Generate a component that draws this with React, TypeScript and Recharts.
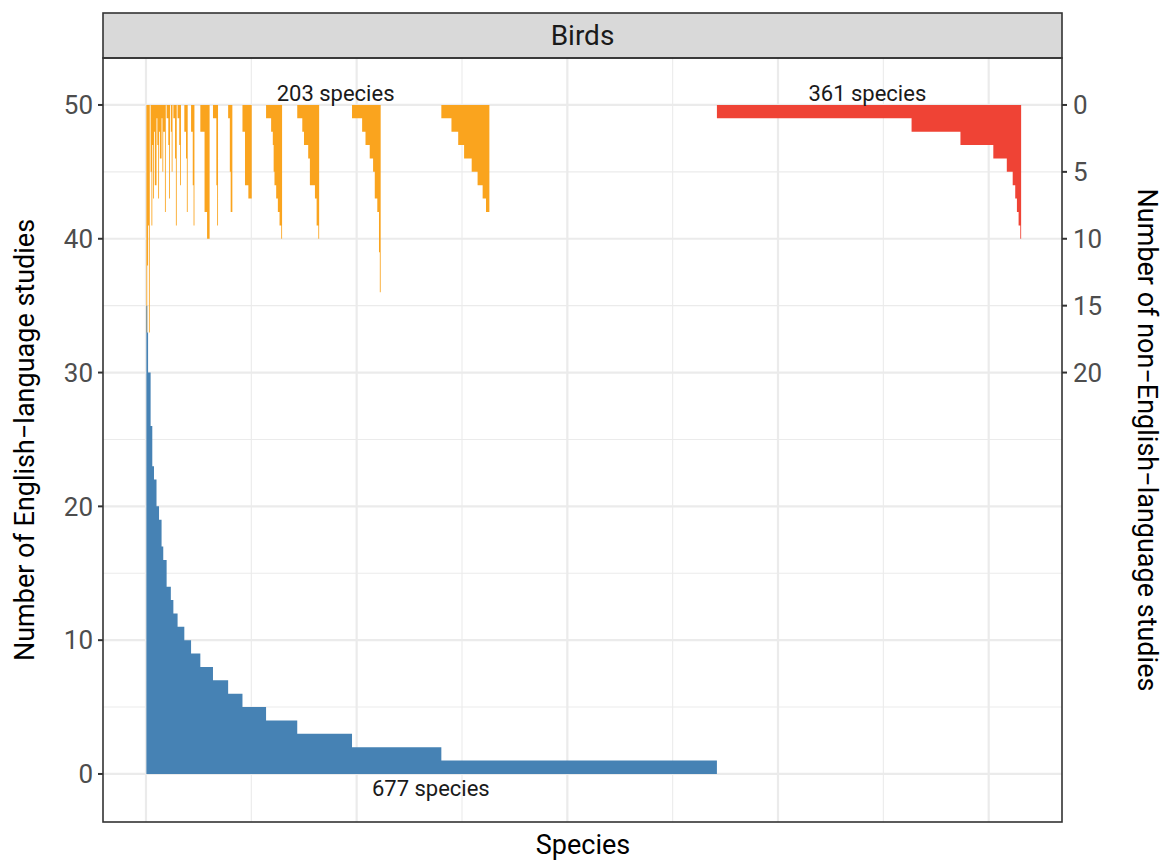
import { ComposedChart, Area, XAxis, YAxis, CartesianGrid, ReferenceDot } from 'recharts';

const BLUE = '#4682B4';
const ORANGE = '#FAA41E';
const RED = '#EF4335';
const FONT = 'Roboto, "Liberation Sans", Arial, sans-serif';

// English-language study counts per species (descending) and how many species share each value
const engValues = [35, 33, 30, 26, 23, 22, 20, 19, 17, 16, 14, 13, 12, 11, 10, 9, 8, 7, 6, 5, 4, 3, 2, 1];
const engCounts = [1, 1, 3, 2, 2, 3, 3, 3, 2, 4, 5, 3, 5, 8, 8, 11, 15, 18, 17, 28, 37, 65, 106, 327];

// non-English study counts for species inside each English group: [studies, species]
const orangeRuns: [number, number][][] = [
  [[17, 1]],
  [[12, 1]],
  [[9, 1], [17, 1]],
  [[5, 1], [9, 1]],
  [[3, 1], [7, 1]],
  [[2, 1], [6, 2]],
  [[1, 1], [3, 1], [7, 1]],
  [[2, 1], [4, 2]],
  [[1, 1], [5, 1]],
  [[2, 2], [8, 1]],
  [[1, 2], [3, 1], [7, 1]],
  [[2, 1], [5, 1]],
  [[1, 2], [4, 1], [9, 1]],
  [[1, 2], [3, 1], [6, 1]],
  [[2, 2], [4, 1], [8, 1]],
  [[2, 2], [6, 1], [9, 1]],
  [[2, 5], [8, 3], [10, 3]],
  [[1, 4], [6, 1], [9, 1]],
  [[1, 2], [5, 1], [8, 2]],
  [[2, 3], [6, 4], [7, 4]],
  [[1, 6], [2, 2], [3, 1], [5, 1], [6, 2], [7, 2], [8, 2], [9, 2], [10, 1]],
  [[1, 6], [2, 2], [3, 5], [4, 2], [6, 6], [7, 2], [9, 2], [10, 1]],
  [[1, 12], [2, 4], [3, 5], [4, 4], [5, 2], [7, 3], [8, 2], [11, 1], [14, 1]],
  [[1, 12], [2, 8], [3, 7], [4, 9], [5, 7], [6, 6], [7, 4], [8, 4]],
];

// species with no English-language studies
const redLevels = [1, 2, 3, 4, 5, 6, 7, 8, 9, 10];
const redCounts = [231, 58, 39, 16, 7, 3, 2, 2, 2, 1];

const majorX = [0, 250, 500, 750, 1000];
const minorX = [125, 375, 625, 875];
const majorY = [0, 10, 20, 30, 40, 50];
const minorY = [5, 15, 25, 35, 45];
const rightTicks = [0, 5, 10, 15, 20];

const labelText = ['203 species', '361 species', '677 species'];
const labelX = [225, 856, 338];
const labelY = [50.9, 50.9, -1.1];

type Pt = { x: number; v: number };

function buildSeries() {
  const blue: Pt[] = [];
  const orange: Pt[] = [];
  const red: Pt[] = [];
  let i = 0;
  engValues.forEach((v, g) => {
    const ns: number[] = [];
    orangeRuns[g].forEach(([n, c]) => {
      for (let k = 0; k < c; k++) ns.push(n);
    });
    for (let k = 0; k < engCounts[g]; k++) {
      blue.push({ x: i + 0.5, v });
      orange.push({ x: i + 0.5, v: 50 - (ns[k] ?? 0) });
      i++;
    }
  });
  blue.push({ x: i + 0.5, v: engValues[engValues.length - 1] });
  orange.push({ x: i + 0.5, v: 50 });
  redLevels.forEach((n, j) => {
    for (let k = 0; k < redCounts[j]; k++) {
      red.push({ x: i + 0.5, v: 50 - n });
      i++;
    }
  });
  red.push({ x: i + 0.5, v: 50 - redLevels[redLevels.length - 1] });
  return { blue, orange, red };
}

const { blue, orange, red } = buildSeries();

const tickStyle = { fill: '#4D4D4D', fontSize: 26, fontFamily: FONT };
const noTick = () => <g />;

export default function App() {
  return (
    <div style={{ position: 'absolute', left: 0, top: 0, width: 1168, height: 860, background: '#fff', fontFamily: FONT }}>
      <ComposedChart width={1168} height={860} margin={{ top: 58, right: 0, bottom: 0, left: 0 }}>
        <CartesianGrid yAxisId="left" stroke="#EBEBEB" strokeWidth={1.1} fill="none"
          horizontalValues={minorY} verticalValues={minorX} />
        <CartesianGrid yAxisId="left" stroke="#EBEBEB" strokeWidth={2.2} fill="none"
          horizontalValues={majorY} verticalValues={majorX} />
        <XAxis type="number" dataKey="x" domain={[-51, 1087]} allowDataOverflow ticks={majorX} interval={0}
          tick={noTick} tickLine={false} axisLine={false} height={38} />
        <YAxis yAxisId="left" type="number" domain={[-3.59, 53.51]} allowDataOverflow ticks={majorY}
          width={103} axisLine={false} tickSize={5} tickMargin={5}
          tickLine={{ stroke: '#333333', strokeWidth: 2 }} tick={tickStyle} />
        <YAxis yAxisId="right" orientation="right" type="number" reversed domain={[-3.51, 53.59]}
          allowDataOverflow ticks={rightTicks} width={106} axisLine={false} tickSize={5} tickMargin={6}
          tickLine={{ stroke: '#333333', strokeWidth: 2 }} tick={{ ...tickStyle, textAnchor: 'start' }} />
        <Area yAxisId="left" data={orange} dataKey="v" type="stepAfter" baseValue={50}
          fill={ORANGE} fillOpacity={1} stroke="none" dot={false} activeDot={false} isAnimationActive={false} />
        <Area yAxisId="left" data={red} dataKey="v" type="stepAfter" baseValue={50}
          fill={RED} fillOpacity={1} stroke="none" dot={false} activeDot={false} isAnimationActive={false} />
        <Area yAxisId="left" data={blue} dataKey="v" type="stepAfter" baseValue={0}
          fill={BLUE} fillOpacity={1} stroke="none" dot={false} activeDot={false} isAnimationActive={false} />
        {labelText.map((t, k) => (
          <ReferenceDot key={t} yAxisId="left" x={labelX[k]} y={labelY[k]} r={1} fill="none" stroke="none"
            label={{ value: t, position: 'center', fontSize: 22, fill: '#1A1A1A', fontFamily: FONT }} />
        ))}
      </ComposedChart>
      <svg width={1168} height={860} style={{ position: 'absolute', left: 0, top: 0, pointerEvents: 'none' }}>
        <rect x={103} y={13} width={959} height={45} fill="#D9D9D9" stroke="#333333" strokeWidth={1.6} />
        <text x={582.5} y={45} textAnchor="middle" fontSize={28} fill="#1A1A1A" fontFamily={FONT}>Birds</text>
        <rect x={103} y={58} width={959} height={764} fill="none" stroke="#333333" strokeWidth={1.6} />
        <text x={583} y={854} textAnchor="middle" fontSize={27} fill="#000" fontFamily={FONT}>Species</text>
        <text x={34} y={440} textAnchor="middle" fontSize={27} fill="#000" fontFamily={FONT}
          transform="rotate(-90 34 440)">Number of English−language studies</text>
        <text x={1138} y={440} textAnchor="middle" fontSize={27} fill="#000" fontFamily={FONT}
          transform="rotate(90 1138 440)">Number of non−English−language studies</text>
      </svg>
    </div>
  );
}
